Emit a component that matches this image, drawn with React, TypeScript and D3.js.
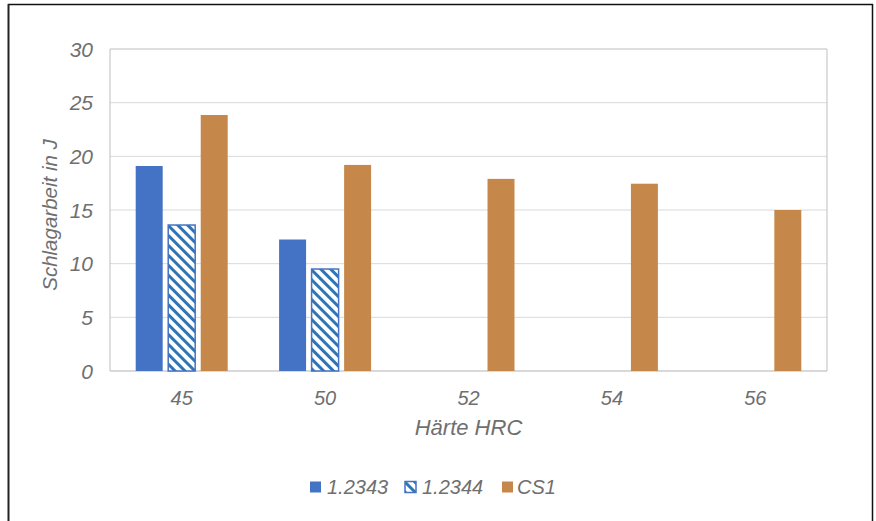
import * as d3 from "d3";

const categories = ["45", "50", "52", "54", "56"];
const seriesNames = ["1.2343", "1.2344", "CS1"];
const values1_2343: (number | null)[] = [19.1, 12.25, null, null, null];
const values1_2344: (number | null)[] = [13.6, 9.5, null, null, null];
const valuesCS1: (number | null)[] = [23.85, 19.2, 17.9, 17.45, 15.0];
const yTicks = [0, 5, 10, 15, 20, 25, 30];

const width = 876;
const height = 521;
const plot = { left: 110, right: 827, top: 49, bottom: 371 };

const blue = "#4472C4";
const hatchBlue = "#2E75B6";
const orange = "#C5884A";
const textGrey = "#6f6f6f";
const font = "'Liberation Sans', Arial, sans-serif";

export default function App() {
	const x0 = d3.scaleBand<string>().domain(categories).range([plot.left, plot.right]);
	const x1 = d3.scaleBand<string>().domain(seriesNames).range([0, 92]).paddingInner(0.17);
	const y = d3.scaleLinear().domain([0, 30]).range([plot.bottom, plot.top]);

	const seriesValues = [values1_2343, values1_2344, valuesCS1];
	const fills = [blue, "url(#hatch)", orange];

	const groupStart = (c: string) => (x0(c) as number) + (x0.bandwidth() - 92) / 2;

	// legend entries: swatch x and label x
	const legend = [
		{ name: seriesNames[0], sx: 310, tx: 327, fill: blue },
		{ name: seriesNames[1], sx: 405, tx: 422, fill: "url(#hatch)" },
		{ name: seriesNames[2], sx: 502, tx: 517, fill: orange },
	];

	return (
		<svg
			width={width}
			height={height}
			style={{ position: "absolute", left: 0, top: 0, background: "#fff" }}
			fontFamily={font}
		>
			<defs>
				<pattern
					id="hatch"
					patternUnits="userSpaceOnUse"
					width={7}
					height={7}
					patternTransform="rotate(-45)"
				>
					<rect width={7} height={7} fill="#fff" />
					<rect x={0} y={0} width={3} height={7} fill={hatchBlue} />
				</pattern>
			</defs>

			{/* outer frame */}
			<line x1={8} x2={873} y1={4.5} y2={4.5} stroke="#111" strokeWidth={1.5} />
			<line x1={8.5} x2={8.5} y1={4} y2={height} stroke="#222" strokeWidth={2} />
			<line x1={872.5} x2={872.5} y1={4} y2={height} stroke="#111" strokeWidth={1.5} />

			{/* grid */}
			{yTicks.map((t) => (
				<line
					key={t}
					x1={plot.left}
					x2={plot.right}
					y1={y(t)}
					y2={y(t)}
					stroke={t === 30 ? "#bfbfbf" : "#d9d9d9"}
					strokeWidth={t === 0 ? 2 : 1}
				/>
			))}
			<line x1={plot.left} x2={plot.left} y1={plot.top} y2={plot.bottom} stroke="#bfbfbf" />
			<line x1={plot.right} x2={plot.right} y1={plot.top} y2={plot.bottom} stroke="#bfbfbf" />

			{/* bars */}
			{seriesValues.map((vals, si) =>
				vals.map((v, ci) => {
					if (v == null) return null;
					const c = categories[ci];
					const bx = groupStart(c) + (x1(seriesNames[si]) as number);
					const by = y(v);
					return (
						<rect
							key={`${si}-${ci}`}
							x={bx}
							y={by}
							width={x1.bandwidth()}
							height={y(0) - by}
							fill={fills[si]}
							stroke={si === 1 ? blue : "none"}
							strokeWidth={si === 1 ? 1.5 : 0}
						/>
					);
				}),
			)}

			{/* y ticks */}
			{yTicks.map((t) => (
				<text
					key={t}
					x={93}
					y={y(t)}
					dy="0.36em"
					textAnchor="end"
					fontSize={21}
					fontStyle="italic"
					fill={textGrey}
				>
					{t}
				</text>
			))}

			{/* x ticks */}
			{categories.map((c) => (
				<text
					key={c}
					x={(x0(c) as number) + x0.bandwidth() / 2}
					y={405}
					textAnchor="middle"
					fontSize={20}
					fontStyle="italic"
					fill={textGrey}
				>
					{c}
				</text>
			))}

			{/* axis titles */}
			<text
				x={(plot.left + plot.right) / 2}
				y={435}
				textAnchor="middle"
				fontSize={22}
				fontStyle="italic"
				fill={textGrey}
			>
				Härte HRC
			</text>
			<text
				transform={`translate(57, 215) rotate(-90)`}
				textAnchor="middle"
				fontSize={20.5}
				fontStyle="italic"
				fill={textGrey}
			>
				Schlagarbeit in J
			</text>

			{/* legend */}
			{legend.map((l, i) => (
				<g key={l.name}>
					<rect
						x={l.sx}
						y={481.5}
						width={11}
						height={11}
						fill={l.fill}
						stroke={i === 1 ? blue : "none"}
						strokeWidth={i === 1 ? 1.5 : 0}
					/>
					<text x={l.tx} y={494} fontSize={20} fontStyle="italic" fill={textGrey}>
						{l.name}
					</text>
				</g>
			))}
		</svg>
	);
}
